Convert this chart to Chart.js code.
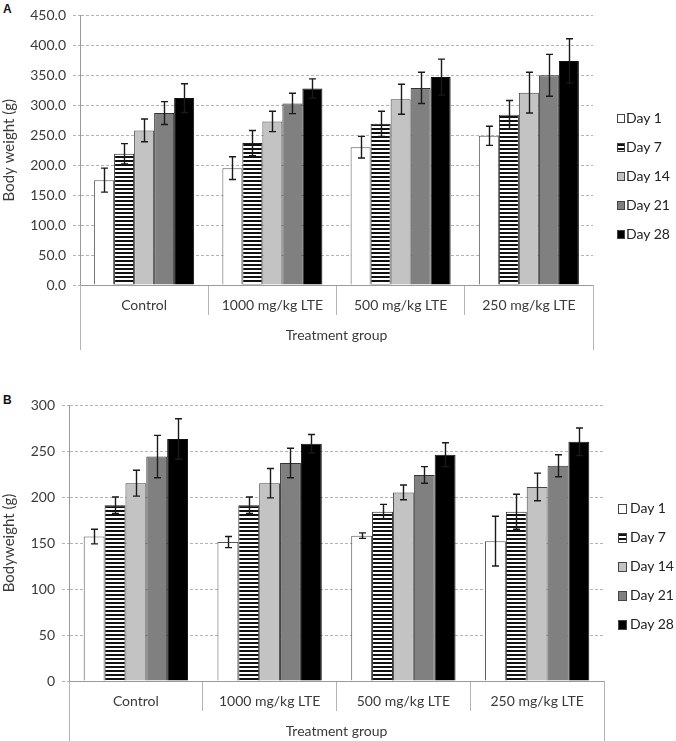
<!DOCTYPE html>
<html>
<head>
<meta charset="utf-8">
<script src="https://cdn.jsdelivr.net/npm/chart.js@4.4.1/dist/chart.umd.min.js"></script>
<style>
  body { margin: 0; background: #fff; font-family: Lato, sans-serif; }
  #wrap { position: relative; width: 676px; height: 741px; overflow: hidden; }
  .panel { position: absolute; left: 0; width: 676px; }
  .tag { position: absolute; left: 3px; font: bold 12px "Liberation Sans", Arial, sans-serif; color: #111; }
  .leg { position: absolute; font-size: 14px; color: #222; line-height: 18px; }
  .leg div { position: relative; height: 29px; }
  .leg span.sw { position: absolute; left: 0; top: 5px; box-sizing: border-box; border: 1px solid #444; }
  .leg span.tx { position: absolute; top: 0; white-space: nowrap; }
</style>
</head>
<body>
<div id="wrap">
  <div class="tag" style="top:2px">A</div>
  <div class="panel" style="top:0;height:350px"><canvas id="chartA" width="676" height="350"></canvas></div>
  <div class="leg" id="legA" style="left:617px;top:109px"></div>

  <div class="tag" style="top:393px">B</div>
  <div class="panel" style="top:370px;height:371px"><canvas id="chartB" width="676" height="371"></canvas></div>
  <div class="leg" id="legB" style="left:618px;top:499px"></div>
</div>
<script>
/* ---------- data ---------- */
const groups = ["Control", "1000 mg/kg LTE", "500 mg/kg LTE", "250 mg/kg LTE"];
const days = ["Day 1", "Day 7", "Day 14", "Day 21", "Day 28"];

// Panel A - body weight (g), mean per day across groups
const aDay1  = [175, 195, 230, 249];
const aDay7  = [219, 237, 269, 284];
const aDay14 = [258, 273, 310, 321];
const aDay21 = [287, 303, 329, 350];
const aDay28 = [312, 328, 347, 374];
// error bars (SD)
const aErr1  = [20, 19, 18, 16];
const aErr7  = [17, 21, 21, 24];
const aErr14 = [19, 17, 25, 34];
const aErr21 = [19, 17, 26, 35];
const aErr28 = [24, 16, 30, 37];

// Panel B - bodyweight (g)
const bDay1  = [157, 151, 158, 152];
const bDay7  = [191, 191, 184, 184];
const bDay14 = [215, 215, 205, 211];
const bDay21 = [244, 237, 224, 234];
const bDay28 = [263, 258, 246, 260];
const bErr1  = [8, 6, 3, 27];
const bErr7  = [9, 9, 8, 19];
const bErr14 = [14, 16, 8, 15];
const bErr21 = [23, 16, 9, 12];
const bErr28 = [22, 10, 13, 15];

/* ---------- styles ---------- */
function stripes() {
  const c = document.createElement("canvas");
  c.width = 4; c.height = 4;
  const g = c.getContext("2d");
  g.fillStyle = "#fff"; g.fillRect(0, 0, 4, 4);
  g.fillStyle = "#111"; g.fillRect(0, 0, 4, 2);
  return g.createPattern(c, "repeat");
}
const fills = ["#ffffff", stripes(), "#c3c3c3", "#808080", "#000000"];
const cssFills = ["#fff", "repeating-linear-gradient(to bottom,#111 0 2px,#fff 2px 4px)", "#c3c3c3", "#808080", "#000"];
const borders = ["#555", "#222", "#444", "#333", "#111"];

const FONT = "Lato, sans-serif";
const TXT = "#3a3a3a";
const GRID = "#b4b4b4";

// error bars + long outer frame lines below the axis
const extras = {
  id: "extras",
  afterDatasetsDraw(chart, args, opts) {
    const { ctx, scales: { y } } = chart;
    ctx.save();
    ctx.strokeStyle = "#1a1a1a";
    ctx.lineWidth = 1.4;
    chart.data.datasets.forEach((ds, i) => {
      const meta = chart.getDatasetMeta(i);
      meta.data.forEach((bar, j) => {
        const e = opts.errors[i][j];
        const v = ds.data[j];
        const x = Math.round(bar.x) + 0.5;
        const top = y.getPixelForValue(v + e);
        const bot = y.getPixelForValue(v - e);
        ctx.beginPath();
        ctx.moveTo(x, top); ctx.lineTo(x, bot);
        ctx.moveTo(x - 3.5, top); ctx.lineTo(x + 3.5, top);
        ctx.moveTo(x - 3.5, bot); ctx.lineTo(x + 3.5, bot);
        ctx.stroke();
      });
    });
    ctx.restore();
  },
  afterDraw(chart) {
    const { ctx, chartArea: a, height } = chart;
    ctx.save();
    ctx.strokeStyle = GRID;
    ctx.lineWidth = 1;
    ctx.beginPath();
    [a.left, a.right].forEach(x => {
      const px = Math.round(x) + 0.5;
      ctx.moveTo(px, a.bottom);
      ctx.lineTo(px, height);
    });
    ctx.stroke();
    ctx.restore();
  }
};

function makeChart(id, series, errors, cfg) {
  return new Chart(document.getElementById(id), {
    type: "bar",
    data: {
      labels: groups,
      datasets: series.map((d, i) => ({
        label: days[i],
        data: d,
        backgroundColor: fills[i],
        borderColor: borders[i],
        borderWidth: 1,
        categoryPercentage: 0.78,
        barPercentage: 1.0
      }))
    },
    options: {
      responsive: false,
      animation: false,
      layout: { padding: cfg.padding },
      plugins: {
        legend: { display: false },
        tooltip: { enabled: false },
        extras: { errors: errors }
      },
      scales: {
        x: {
          afterFit: s => { s.height = cfg.xHeight; },
          grid: { offset: true, drawOnChartArea: false, drawTicks: true, tickLength: 30, color: GRID, tickColor: GRID },
          border: { display: true, color: "#9a9a9a" },
          ticks: { padding: -18, color: TXT, font: { family: FONT, size: 14 } },
          title: { display: true, text: "Treatment group", color: TXT, font: { family: FONT, size: 14 }, padding: { top: 0, bottom: cfg.titlePad } }
        },
        y: {
          min: 0,
          max: cfg.max,
          afterFit: s => { s.width = cfg.yWidth; },
          grid: { color: GRID, tickLength: 7, tickColor: GRID, tickBorderDash: [3, 2] },
          border: { color: "#9a9a9a", dash: [3, 2] },
          ticks: {
            stepSize: 50,
            padding: 7,
            color: TXT,
            font: { family: FONT, size: 14 },
            callback: cfg.fmt
          },
          title: { display: true, text: cfg.yTitle, color: TXT, font: { family: FONT, size: 15 }, padding: { top: 0, bottom: 0 } }
        }
      }
    },
    plugins: [extras]
  });
}

function buildLegend(id, box, textLeft) {
  const el = document.getElementById(id);
  days.forEach((d, i) => {
    const row = document.createElement("div");
    row.innerHTML = '<span class="sw" style="width:' + box + 'px;height:' + (box + 1) + 'px;background:' + cssFills[i] + '"></span>' +
      '<span class="tx" style="left:' + textLeft + 'px">' + d + "</span>";
    el.appendChild(row);
  });
}

makeChart("chartA",
  [aDay1, aDay7, aDay14, aDay21, aDay28],
  [aErr1, aErr7, aErr14, aErr21, aErr28],
  { padding: { top: 15, right: 83, bottom: 0, left: 0 }, xHeight: 65, yWidth: 80, titlePad: 6, max: 450,
    yTitle: "Body weight (g)", fmt: v => v.toFixed(1) });

makeChart("chartB",
  [bDay1, bDay7, bDay14, bDay21, bDay28],
  [bErr1, bErr7, bErr14, bErr21, bErr28],
  { padding: { top: 35, right: 72, bottom: 0, left: 0 }, xHeight: 60, yWidth: 69, titlePad: 1, max: 300,
    yTitle: "Bodyweight (g)", fmt: v => String(v) });

buildLegend("legA", 8, 9);
buildLegend("legB", 9, 12);
</script>
</body>
</html>
